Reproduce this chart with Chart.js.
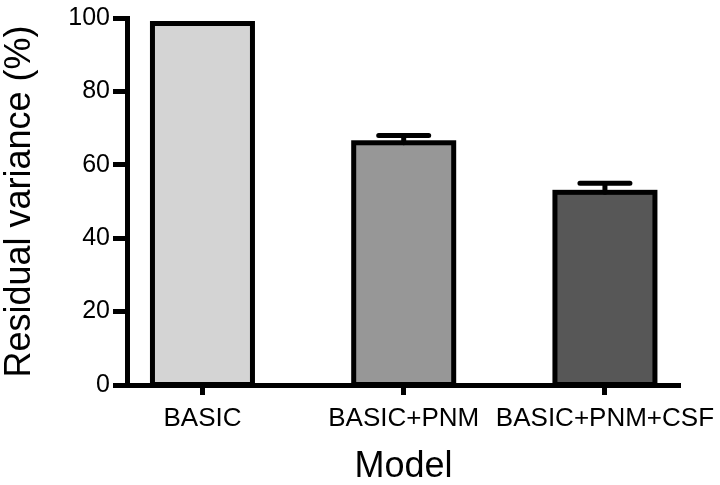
<!DOCTYPE html>
<html>
<head>
<meta charset="utf-8">
<script src="https://cdn.jsdelivr.net/npm/chart.js@4.4.1/dist/chart.umd.min.js"></script>
<style>
  html, body { margin: 0; padding: 0; background: #ffffff; }
  canvas { display: block; }
</style>
</head>
<body>
<canvas id="chart" width="720" height="485"></canvas>
<script>
// chart data
const categories = ['BASIC', 'BASIC+PNM', 'BASIC+PNM+CSF'];
const residualVariance = [98.5, 66, 52.5];
const errorUpper = [0, 2, 2.5];
const barColors = ['#d4d4d4', '#979797', '#575757'];
const yTickValues = [0, 20, 40, 60, 80, 100];

const FONT = "'Liberation Sans', Arial, Helvetica, sans-serif";

// outline each bar with a stroke centred on its edges (Prism style)
const barOutline = {
    id: 'barOutline',
    afterDatasetsDraw(chart) {
        const ctx = chart.ctx;
        const meta = chart.getDatasetMeta(0);
        ctx.save();
        ctx.strokeStyle = '#000';
        ctx.lineWidth = 5;
        ctx.lineJoin = 'miter';
        meta.data.forEach((bar) => {
            const p = bar.getProps(['x', 'y', 'base', 'width'], true);
            ctx.strokeRect(p.x - p.width / 2, p.y, p.width, p.base - p.y);
        });

        // upper error bars
        const yScale = chart.scales.y;
        meta.data.forEach((bar, i) => {
            if (!errorUpper[i]) return;
            const p = bar.getProps(['x', 'y'], true);
            const top = yScale.getPixelForValue(residualVariance[i] + errorUpper[i]);
            ctx.lineCap = 'round';
            ctx.beginPath();
            ctx.moveTo(p.x, p.y);
            ctx.lineTo(p.x, top);
            ctx.moveTo(p.x - 25, top);
            ctx.lineTo(p.x + 25, top);
            ctx.stroke();
        });
        ctx.restore();
    }
};

new Chart(document.getElementById('chart'), {
    type: 'bar',
    data: {
        datasets: [{
            data: residualVariance.map((v, i) => ({ x: i + 1, y: v })),
            backgroundColor: barColors,
            borderWidth: 0,
            barThickness: 100
        }]
    },
    options: {
        responsive: false,
        devicePixelRatio: 1,
        animation: false,
        layout: { padding: { left: 0, top: 15, right: 40, bottom: 0 } },
        plugins: {
            legend: { display: false },
            tooltip: { enabled: false }
        },
        scales: {
            x: {
                type: 'linear',
                min: 0.625,
                max: 3.373,
                offset: false,
                afterBuildTicks: (scale) => {
                    scale.ticks = categories.map((c, i) => ({ value: i + 1 }));
                },
                afterFit: (scale) => {
                    scale.height = 100;
                    // let the long last label run into the right margin
                    scale.paddingLeft = 0;
                    scale.paddingRight = 0;
                },
                grid: {
                    display: true,
                    offset: false,
                    drawOnChartArea: false,
                    tickLength: 10,
                    tickWidth: 5,
                    tickColor: '#000'
                },
                border: { display: true, color: '#000', width: 5 },
                ticks: {
                    autoSkip: false,
                    maxRotation: 0,
                    padding: 8,
                    color: '#000',
                    font: { family: FONT, size: 26 },
                    callback: (v) => categories[v - 1]
                },
                title: {
                    display: true,
                    text: 'Model',
                    color: '#000',
                    font: { family: FONT, size: 36, lineHeight: 1 },
                    padding: { top: 0, bottom: 0 }
                }
            },
            y: {
                min: 0,
                max: 100,
                afterBuildTicks: (scale) => {
                    scale.ticks = yTickValues.map((v) => ({ value: v }));
                },
                afterFit: (scale) => { scale.width = 127; },
                grid: {
                    display: true,
                    drawOnChartArea: false,
                    tickLength: 14,
                    tickWidth: 5,
                    tickColor: '#000'
                },
                border: { display: true, color: '#000', width: 5 },
                ticks: {
                    padding: 3,
                    color: '#000',
                    font: { family: FONT, size: 25 }
                },
                title: {
                    display: true,
                    text: 'Residual variance (%)',
                    color: '#000',
                    font: { family: FONT, size: 36, lineHeight: 1.1 },
                    padding: { top: 0, bottom: 0 }
                }
            }
        }
    },
    plugins: [barOutline]
});
</script>
</body>
</html>
